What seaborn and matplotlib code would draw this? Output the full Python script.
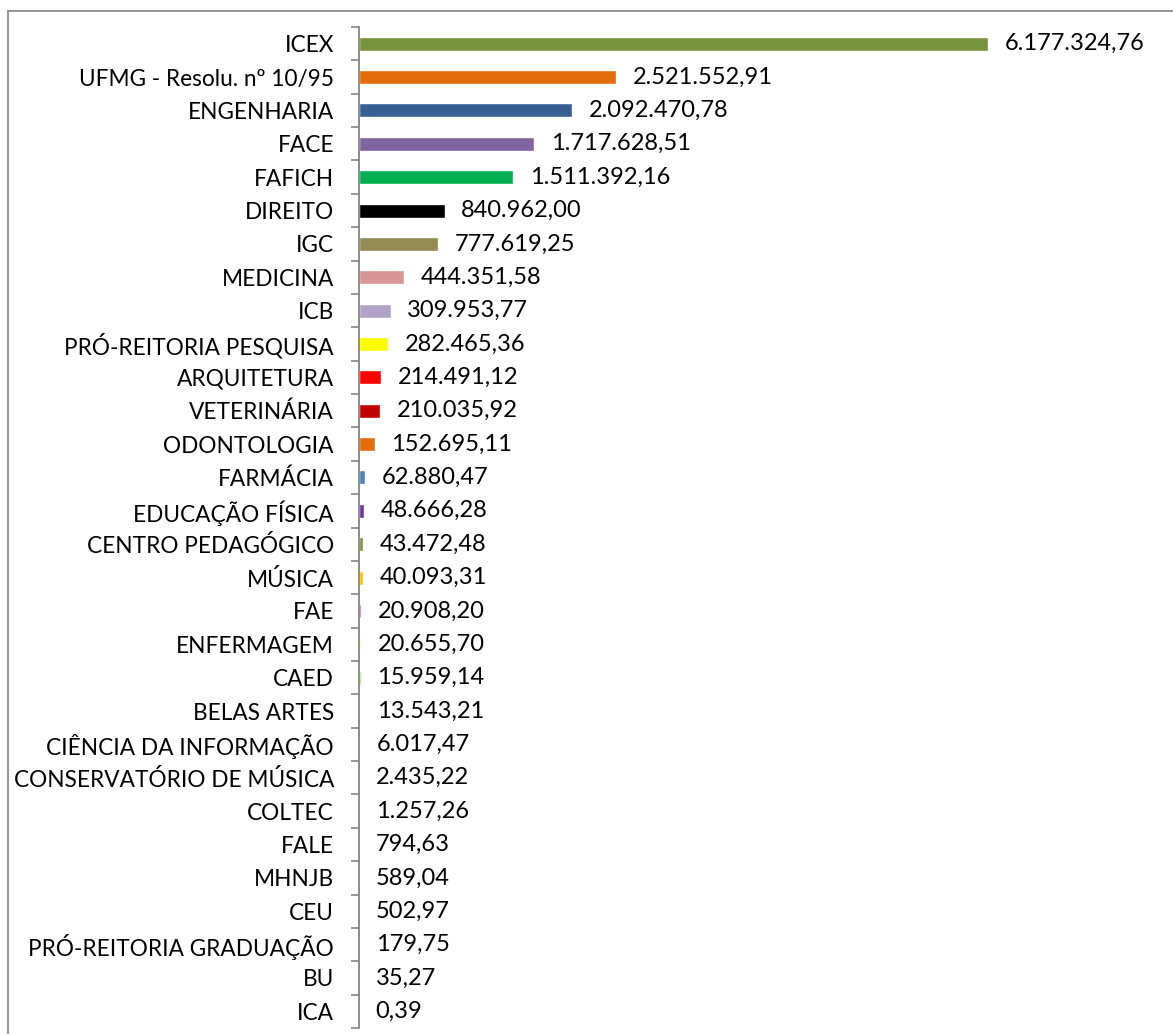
import matplotlib
matplotlib.use("Agg")
import matplotlib.pyplot as plt
from matplotlib.lines import Line2D
import seaborn as sns
import pandas as pd

units = [
    "ICEX", "UFMG - Resolu. nº 10/95", "ENGENHARIA", "FACE", "FAFICH",
    "DIREITO", "IGC", "MEDICINA", "ICB", "PRÓ-REITORIA PESQUISA",
    "ARQUITETURA", "VETERINÁRIA", "ODONTOLOGIA", "FARMÁCIA", "EDUCAÇÃO FÍSICA",
    "CENTRO PEDAGÓGICO", "MÚSICA", "FAE", "ENFERMAGEM", "CAED",
    "BELAS ARTES", "CIÊNCIA DA INFORMAÇÃO", "CONSERVATÓRIO DE MÚSICA", "COLTEC", "FALE",
    "MHNJB", "CEU", "PRÓ-REITORIA GRADUAÇÃO", "BU", "ICA",
]
amounts = [
    6177324.76, 2521552.91, 2092470.78, 1717628.51, 1511392.16,
    840962.00, 777619.25, 444351.58, 309953.77, 282465.36,
    214491.12, 210035.92, 152695.11, 62880.47, 48666.28,
    43472.48, 40093.31, 20908.20, 20655.70, 15959.14,
    13543.21, 6017.47, 2435.22, 1257.26, 794.63,
    589.04, 502.97, 179.75, 35.27, 0.39,
]
bar_colors = [
    "#77933C", "#E46C0A", "#376092", "#8064A2", "#00B050",
    "#000000", "#948A54", "#D99694", "#B3A2C7", "#FFFF00",
    "#FF0000", "#C00000", "#E46C0A", "#4F81BD", "#7030A0",
    "#77933C", "#FFC000", "#FF33CC", "#FFFF99", "#66FF33",
    "#9966FF", "#4BACC6", "#F79646", "#1F497D", "#C0504D",
    "#9BBB59", "#8064A2", "#4BACC6", "#F79646", "#7F7F7F",
]

df = pd.DataFrame({"unit": units, "amount": amounts})


def br_format(v):
    s = f"{v:,.2f}"
    return s.replace(",", "X").replace(".", ",").replace("X", ".")


sns.set_theme(style="white")
plt.rcParams["font.family"] = ["Lato", "DejaVu Sans"]

W, H = 1173, 1034
fig = plt.figure(figsize=(W / 100, H / 100), dpi=100)
ax_left, ax_right = 359 / W, 1160 / W
ax_top, ax_bottom = 1 - 27 / H, 1 - 1028 / H
ax = fig.add_axes([ax_left, ax_bottom, ax_right - ax_left, ax_top - ax_bottom])

sns.barplot(
    data=df, y="unit", x="amount", hue="unit", palette=bar_colors,
    orient="h", width=0.42, legend=False, saturation=1, ax=ax,
)

xmax = 6177324.76 * (1160 - 359) / (988 - 359)
ax.set_xlim(0, xmax)
ax.set_ylim(len(units) - 0.5, -0.5)

for cont, val in zip(ax.containers, amounts):
    ax.bar_label(cont, labels=[br_format(val)], padding=12, fontsize=17,
                 color="black")

for side in ["top", "right", "bottom"]:
    ax.spines[side].set_visible(False)
ax.spines["left"].set_color("#868686")
ax.spines["left"].set_linewidth(1.3)

ax.set_xlabel("")
ax.set_ylabel("")
ax.set_xticks([])
ax.tick_params(axis="y", which="major", length=0, pad=18, labelsize=16.3,
               labelcolor="black")
ax.set_yticks([i + 0.5 for i in range(-1, len(units))], minor=True)
ax.tick_params(axis="y", which="minor", length=5.5, width=1.2,
               color="#868686", direction="out", left=True)

# chart-area frame
gray = "#8C8C8C"
fig.add_artist(Line2D([7.5 / W, 7.5 / W], [0, 1 - 11 / H], transform=fig.transFigure,
                      color=gray, lw=1.3))
fig.add_artist(Line2D([7.5 / W, 1], [1 - 11 / H, 1 - 11 / H], transform=fig.transFigure,
                      color=gray, lw=1.3))

fig.savefig("out.png", dpi=100)
